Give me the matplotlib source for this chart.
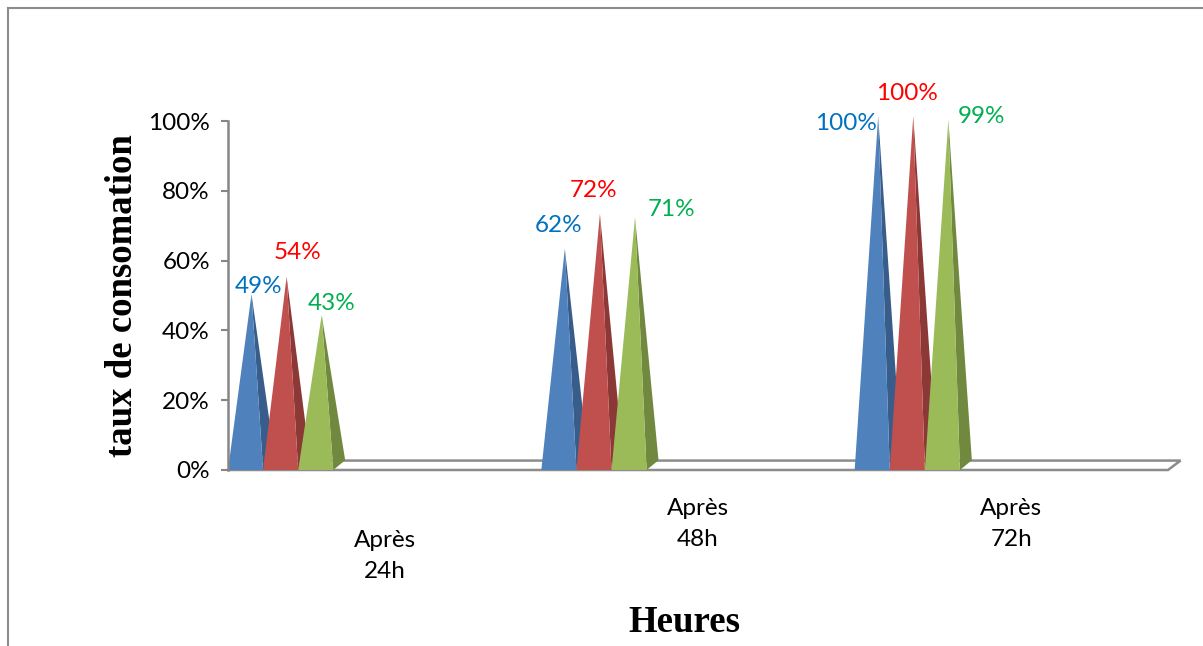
import matplotlib
matplotlib.use("Agg")
import matplotlib.pyplot as plt
from matplotlib.lines import Line2D
from matplotlib.patches import Polygon

# ---- data ----
categories = ["Après\n24h", "Après\n48h", "Après\n72h"]
series_blue = [0.49, 0.62, 1.00]
series_red = [0.54, 0.72, 1.00]
series_green = [0.43, 0.71, 0.99]
label_blue = ["49%", "62%", "100%"]
label_red = ["54%", "72%", "100%"]
label_green = ["43%", "71%", "99%"]
yticks = [0, 0.2, 0.4, 0.6, 0.8, 1.0]
ytick_labels = ["0%", "20%", "40%", "60%", "80%", "100%"]

# ---- style ----
W, H = 1203, 646
DPI = 100
front_cols = ["#4F81BD", "#C0504D", "#9BBB59"]
side_cols = ["#385D8A", "#8C3836", "#71893F"]
text_cols = ["#0070C0", "#FF0000", "#00B050"]
bar_w = 0.112
dxp, dyp = 0.038, 0.028      # pyramid depth offset (data units)
dxf, dyf = 0.040, 0.027      # floor depth offset
# label offsets from apex in pixels (dx right, dy down)
lab_off = [
    [(7, -8), (11, -24), (10, -12)],
    [(-6, -23), (-6, -23), (37, -8)],
    [(-32, 7), (-6, -23), (33, -3)],
]
tick_font = "Lato"
tick_size = 17.5

fig = plt.figure(figsize=(W / DPI, H / DPI), dpi=DPI)
fig.patch.set_facecolor("white")

x0_px, x1_px = 228, 1168
y0_px, y1_px = 470, 121
ax = fig.add_axes([x0_px / W, 1 - y0_px / H, (x1_px - x0_px) / W, (y0_px - y1_px) / H])
ax.set_xlim(0, 3)
ax.set_ylim(0, 1)
ax.patch.set_alpha(0)

for s in ["top", "right", "bottom"]:
    ax.spines[s].set_visible(False)
ax.spines["left"].set_color("#868686")
ax.spines["left"].set_linewidth(1.8)
ax.spines["left"].set_zorder(5)

ax.set_yticks(yticks)
ax.set_yticklabels(ytick_labels, fontfamily=tick_font, fontsize=tick_size)
ax.tick_params(axis="y", length=5, width=1.5, color="#868686", pad=8)
ax.set_xticks([])

# floor
floor = Polygon([(0, 0), (3, 0), (3 + dxf, dyf), (dxf, dyf)], closed=True,
                facecolor="white", edgecolor="#8C8C8C", linewidth=1.8,
                clip_on=False, zorder=1)
ax.add_patch(floor)

all_series = [series_blue, series_red, series_green]
all_labels = [label_blue, label_red, label_green]
for c in range(len(categories)):
    for i, ser in enumerate(all_series):
        v = ser[c]
        xa = c + i * bar_w
        xb = xa + bar_w
        apex = (xa + bar_w / 2 + dxp / 2, v + dyp / 2)
        front = Polygon([(xa, 0), (xb, 0), apex], closed=True,
                        facecolor=front_cols[i], edgecolor="none",
                        clip_on=False, zorder=3 + i)
        side = Polygon([(xb, 0), (xb + dxp, dyp), apex], closed=True,
                       facecolor=side_cols[i], edgecolor="none",
                       clip_on=False, zorder=3 + i)
        ax.add_patch(side)
        ax.add_patch(front)
        ox, oy = lab_off[c][i]
        ax.annotate(all_labels[i][c], xy=apex, xytext=(ox * 0.72, -oy * 0.72),
                    textcoords="offset points", ha="center", va="center",
                    color=text_cols[i], fontfamily=tick_font, fontsize=tick_size,
                    annotation_clip=False, zorder=10)

# category labels
cat_drop = [86, 54, 54]
for c, lab in enumerate(categories):
    ax.annotate(lab, xy=(c + 0.5, 0), xytext=(0, -cat_drop[c] * 0.72),
                textcoords="offset points", ha="center", va="center",
                fontfamily=tick_font, fontsize=tick_size, linespacing=1.6,
                annotation_clip=False)

# axis titles
ax.set_ylabel("taux de consomation", fontfamily="Liberation Serif",
              fontweight="bold", fontsize=26.5)
ax.yaxis.set_label_coords((140 - x0_px) / (x1_px - x0_px), 0.5)
fig.text(684 / W, 1 - 622 / H, "Heures", ha="center", va="center",
         fontfamily="Liberation Serif", fontweight="bold", fontsize=26.5)

# outer frame (left and top edges visible)
fig.add_artist(Line2D([7.5 / W, 7.5 / W], [0, 1 - 7.5 / H], transform=fig.transFigure,
                      color="#8C8C8C", linewidth=1.5))
fig.add_artist(Line2D([7.5 / W, 1], [1 - 7.5 / H, 1 - 7.5 / H], transform=fig.transFigure,
                      color="#8C8C8C", linewidth=1.5))

fig.savefig("out.png", dpi=DPI)
